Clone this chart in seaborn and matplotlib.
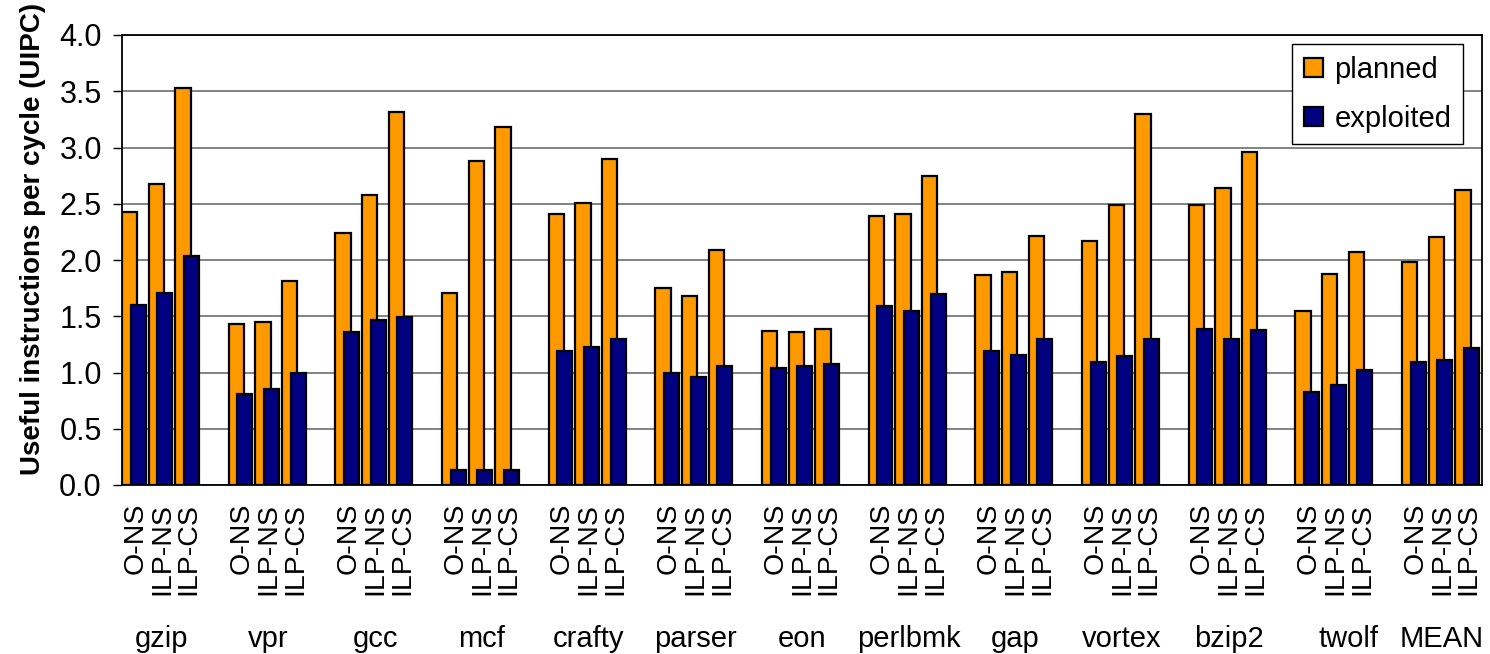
import numpy as np
import pandas as pd
import matplotlib
matplotlib.use("Agg")
import matplotlib.pyplot as plt
import matplotlib.transforms as mtransforms
from matplotlib.patches import Patch
import seaborn as sns

# Benchmarks and machine configurations
benchmarks = ["gzip", "vpr", "gcc", "mcf", "crafty", "parser", "eon",
              "perlbmk", "gap", "vortex", "bzip2", "twolf", "MEAN"]
configs = ["O-NS", "ILP-NS", "ILP-CS"]

# Useful IPC per benchmark, three configurations each (O-NS, ILP-NS, ILP-CS)
planned = [
    2.43, 2.68, 3.53,   # gzip
    1.43, 1.45, 1.81,   # vpr
    2.24, 2.58, 3.32,   # gcc
    1.71, 2.88, 3.18,   # mcf
    2.41, 2.51, 2.90,   # crafty
    1.75, 1.68, 2.09,   # parser
    1.37, 1.36, 1.39,   # eon
    2.39, 2.41, 2.75,   # perlbmk
    1.87, 1.89, 2.21,   # gap
    2.17, 2.49, 3.30,   # vortex
    2.49, 2.64, 2.96,   # bzip2
    1.55, 1.88, 2.07,   # twolf
    1.98, 2.20, 2.62,   # MEAN
]
exploited = [
    1.60, 1.71, 2.04,
    0.81, 0.85, 1.00,
    1.36, 1.47, 1.49,
    0.13, 0.13, 0.13,
    1.19, 1.23, 1.30,
    1.00, 0.96, 1.06,
    1.04, 1.06, 1.08,
    1.59, 1.55, 1.70,
    1.19, 1.16, 1.30,
    1.09, 1.15, 1.30,
    1.39, 1.30, 1.38,
    0.83, 0.89, 1.02,
    1.09, 1.11, 1.22,
]
yticks = [0.0, 0.5, 1.0, 1.5, 2.0, 2.5, 3.0, 3.5, 4.0]

ORANGE = "#FF9900"
NAVY = "#000080"

# One slot per configuration, with an empty slot between benchmarks
rows = []
for g, bench in enumerate(benchmarks):
    for c, cfg in enumerate(configs):
        i = g * 3 + c
        rows.append({"benchmark": bench, "config": cfg, "slot": g * 4 + c,
                     "planned": planned[i], "exploited": exploited[i]})
df = pd.DataFrame(rows)

sns.set_style("white")
plt.rcParams["font.family"] = ["Liberation Sans", "DejaVu Sans"]
plt.rcParams.update({"text.color": "black", "axes.labelcolor": "black",
                     "xtick.color": "black", "ytick.color": "black"})

W, H = 1490, 654
fig = plt.figure(figsize=(W / 100, H / 100), dpi=100)
ax = fig.add_axes([122 / W, 169 / H, 1360 / W, 450 / H])

bar_w = 0.57
edge_lw = 1.6
sns.barplot(x=df["slot"] - 0.215, y=df["planned"], native_scale=True, orient="x",
            width=bar_w, color=ORANGE, saturation=1, edgecolor="black",
            linewidth=edge_lw, errorbar=None, ax=ax)
sns.barplot(x=df["slot"] + 0.105, y=df["exploited"], native_scale=True, orient="x",
            width=bar_w, color=NAVY, saturation=1, edgecolor="black",
            linewidth=edge_lw, errorbar=None, ax=ax)

ax.set_xlim(-0.5, 50.5)
ax.set_ylim(0, 4)
ax.set_axisbelow(True)
ax.yaxis.grid(True, color="#606060", linewidth=1.1)
ax.xaxis.grid(False)
for s in ax.spines.values():
    s.set_visible(True)
    s.set_color("black")
    s.set_linewidth(1.3)

ax.set_yticks(yticks)
ax.set_yticklabels([f"{v:.1f}" for v in yticks], fontsize=22)
ax.tick_params(axis="y", direction="out", length=6.5, width=1, color="black",
               pad=8, left=True)

ax.set_xticks(df["slot"])
ax.set_xticklabels(df["config"], rotation=90, fontsize=20.5)
ax.tick_params(axis="x", length=0, pad=13)
ax.set_xlabel("")

ax.set_ylabel("Useful instructions per cycle (UIPC)", fontsize=20,
              fontweight="bold")
ax.yaxis.set_label_coords(-0.056, 0.547)

# Benchmark names below the configuration labels
trans = mtransforms.blended_transform_factory(ax.transData, fig.transFigure)
nudge = {"twolf": 0.5}
for g, bench in enumerate(benchmarks):
    ax.text(g * 4 + 1 + nudge.get(bench, 0.0), 7 / H, bench, transform=trans,
            ha="center", va="baseline", fontsize=21)

handles = [Patch(facecolor=ORANGE, edgecolor="black", linewidth=edge_lw, label="planned"),
           Patch(facecolor=NAVY, edgecolor="black", linewidth=edge_lw, label="exploited")]
leg = ax.legend(handles=handles, loc="upper right",
                bbox_to_anchor=((1463 - 122) / 1360, (485 - 44) / 450),
                fontsize=21, frameon=True, fancybox=False, shadow=False,
                framealpha=1, edgecolor="black", handlelength=0.65,
                handleheight=0.65, handletextpad=0.4, labelspacing=0.72,
                borderpad=0.4, borderaxespad=0)
leg.get_frame().set_linewidth(1.0)

fig.savefig("out.png", dpi=100)
